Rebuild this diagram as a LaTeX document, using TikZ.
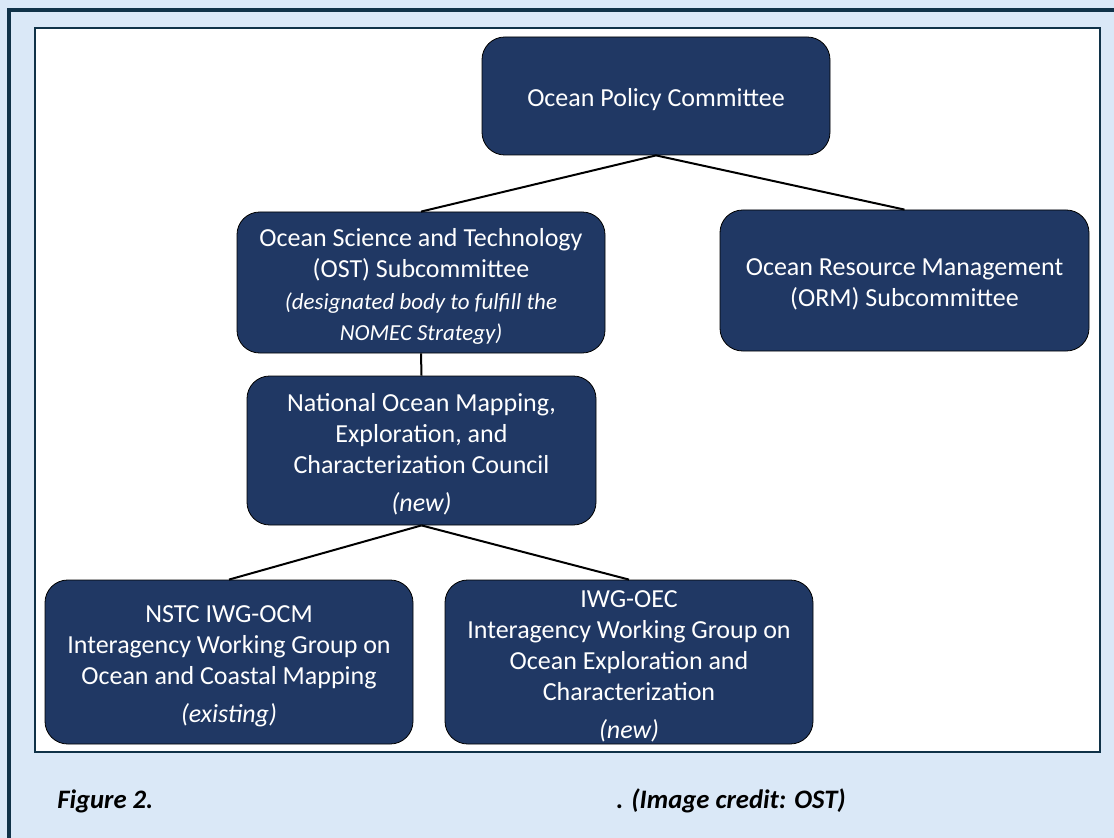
\documentclass[tikz,border=0pt]{standalone}
\usepackage{fontspec}
\setmainfont{Carlito}
\definecolor{navybox}{RGB}{32,56,100}
\definecolor{panelblue}{RGB}{218,232,247}
\definecolor{framedark}{RGB}{16,50,72}
\newcommand{\toprule}{\rule{0pt}{19pt}}
\tikzset{
  orgbox/.style 2 args={rectangle, draw=black, line width=0.6pt, fill=navybox,
    rounded corners=17pt, inner sep=0pt, align=center, text=white,
    minimum width=#1*0.75pt, minimum height=#2*0.75pt,
    font=\fontsize{19.5}{23.25}\selectfont},
  link/.style={draw=black, line width=1.5pt},
  captext/.style={anchor=base west, inner sep=0pt, font=\fontsize{20}{24}\selectfont\bfseries\itshape}
}

\begin{document}
\begin{tikzpicture}[x=0.75pt, y=-0.75pt]
    % Panel and frames
    \clip (0,0) rectangle (1114,838);
    \fill[panelblue] (0,0) rectangle (1114,838);
    \draw[framedark, line width=2.4pt] (9,10) rectangle (1140,870);
    \draw[framedark, fill=white, line width=1.6pt] (35,28) rectangle (1100,752);

    % Committee and subcommittees
    \node [orgbox={348}{118}] (opc) at (656,96) {\toprule Ocean Policy Committee};
    \node [orgbox={368}{141}] (ost) at (421,282.5) {\toprule Ocean Science and Technology\\(OST) Subcommittee\\[1pt]
      {\fontsize{17.2}{21.75}\selectfont\itshape (designated body to fulfill the}\\
      {\fontsize{17.2}{21.75}\selectfont\itshape NOMEC Strategy)}};
    \node [orgbox={369}{141}] (orm) at (904.5,280.5) {\toprule Ocean Resource Management\\(ORM) Subcommittee};

    % Council
    \node [orgbox={349}{149}] (council) at (421.5,450.5) {\toprule National Ocean Mapping,\\Exploration, and\\Characterization Council\\[5pt]
      \itshape (new)};

    % Working groups
    \node [orgbox={368}{164}] (ocm) at (229,662) {\toprule NSTC IWG-OCM\\Interagency Working Group on\\Ocean and Coastal Mapping\\[5pt]
      \itshape (existing)};
    \node [orgbox={368}{164}] (oec) at (629,662) {\toprule IWG-OEC\\Interagency Working Group on\\Ocean Exploration and\\Characterization\\[5pt]
      \itshape (new)};

    % Links
    \draw[link] (opc.south) -- (ost.north);
    \draw[link] (opc.south) -- (orm.north);
    \draw[link] (ost.south) -- (council.north);
    \draw[link] (council.south) -- (ocm.north);
    \draw[link] (council.south) -- (oec.north);

    % Caption
    \node [captext] (figlabel) at (57,808) {Figure 2.};
    \node [captext] (credit) at (616,808) {. (Image credit: OST)};
\end{tikzpicture}
\end{document}
